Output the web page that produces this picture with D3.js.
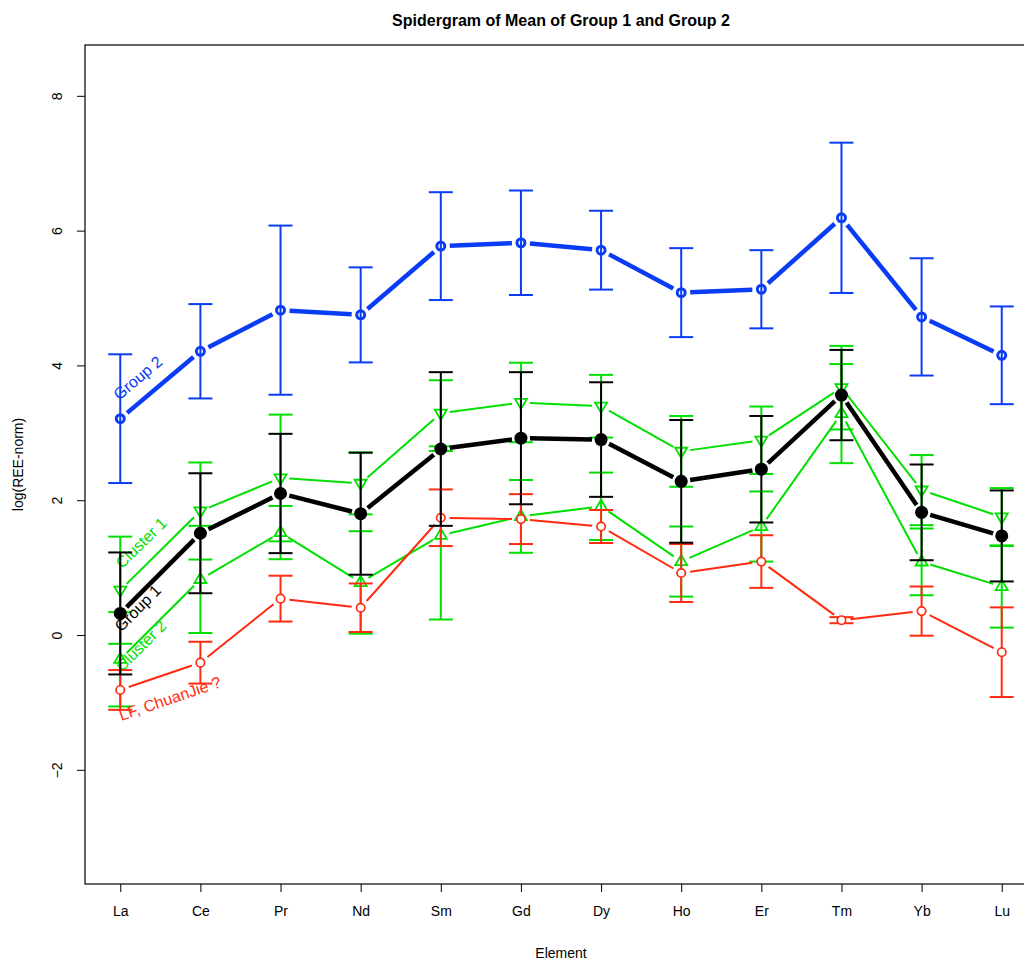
<!DOCTYPE html>
<html lang="en">
  <head>
    <meta charset="UTF-8" />
    <title>Spidergram</title>
    <script src="https://d3js.org/d3.v7.min.js"></script>
    <style>
      body { margin: 0; background: #fff; }
      text { font-family: "Liberation Sans", Arial, sans-serif; }
    </style>
  </head>

  <body>
    <svg width="1024" height="960"></svg>
    <script>
      const elements = ["La", "Ce", "Pr", "Nd", "Sm", "Gd", "Dy", "Ho", "Er", "Tm", "Yb", "Lu"];
      const yTicks = [-2, 0, 2, 4, 6, 8];

      // mean and standard deviation per element
      const group2Mean = [3.21, 4.21, 4.82, 4.75, 5.77, 5.82, 5.71, 5.08, 5.13, 6.19, 4.72, 4.15];
      const group2Sd = [0.955, 0.7, 1.255, 0.705, 0.8, 0.775, 0.585, 0.66, 0.58, 1.115, 0.87, 0.725];
      const group1Mean = [0.32, 1.51, 2.1, 1.8, 2.76, 2.92, 2.9, 2.28, 2.46, 3.56, 1.82, 1.47];
      const group1Sd = [0.905, 0.89, 0.885, 0.905, 1.14, 0.98, 0.85, 0.91, 0.79, 0.67, 0.71, 0.675];
      const cluster1Mean = [0.665, 1.84, 2.33, 2.25, 3.29, 3.45, 3.395, 2.725, 2.89, 3.67, 2.15, 1.75];
      const cluster1Sd = [0.795, 0.72, 0.94, 0.46, 0.49, 0.59, 0.465, 0.525, 0.5, 0.62, 0.52, 0.43];
      const cluster2Mean = [-0.36, 0.825, 1.52, 0.78, 1.48, 1.76, 1.91, 1.09, 1.61, 3.285, 1.085, 0.72];
      const cluster2Sd = [0.7, 0.795, 0.395, 0.76, 1.25, 0.54, 0.5, 0.52, 0.52, 0.735, 0.495, 0.61];
      const lfMean = [-0.815, -0.41, 0.54, 0.405, 1.74, 1.72, 1.61, 0.92, 1.09, 0.22, 0.355, -0.255];
      const lfSd = [0.295, 0.31, 0.34, 0.36, 0.42, 0.37, 0.245, 0.43, 0.39, 0.045, 0.365, 0.665];

      const BLUE = "#0a3cf5", GREEN = "#00e000", RED = "#ff2a10", BLACK = "#000";

      // drawing order: clusters first, then LF, Group 1, Group 2 on top
      const series = [
        { name: "Cluster 1", mean: cluster1Mean, sd: cluster1Sd, color: GREEN, lw: 2, pch: "down", lab: [2, -21] },
        { name: "Cluster 2", mean: cluster2Mean, sd: cluster2Sd, color: GREEN, lw: 2, pch: "up", lab: [2, 13] },
        { name: "LF, ChuanJie ?", mean: lfMean, sd: lfSd, color: RED, lw: 2, pch: "open", lab: [1, 31] },
        { name: "Group 1", mean: group1Mean, sd: group1Sd, color: BLACK, lw: 4.5, pch: "solid", lab: [1, 19] },
        { name: "Group 2", mean: group2Mean, sd: group2Sd, color: BLUE, lw: 4.5, pch: "thick", lab: [-1, -18] },
      ];

      const svg = d3.select("svg");
      const pLeft = 85, pRight = 1037, pTop = 45, pBottom = 884;

      const x = d3.scaleLinear().domain([-0.44, 11.44]).range([pLeft, pRight]);
      const y = d3.scaleLinear().domain([-3.694, 8.754]).range([pBottom, pTop]);

      // title and axis titles
      svg.append("text")
        .attr("x", (pLeft + pRight) / 2).attr("y", 26)
        .attr("text-anchor", "middle").attr("font-size", 16).attr("font-weight", "bold")
        .text("Spidergram of Mean of Group 1 and Group 2");
      svg.append("text")
        .attr("x", (pLeft + pRight) / 2).attr("y", 958)
        .attr("text-anchor", "middle").attr("font-size", 14)
        .text("Element");
      svg.append("text")
        .attr("transform", "translate(23," + (pTop + pBottom) / 2 + ") rotate(-90)")
        .attr("text-anchor", "middle").attr("font-size", 14)
        .text("log(REE-norm)");

      // axes (R style: outside ticks, no domain path)
      const xAxis = svg.append("g")
        .attr("transform", "translate(0," + pBottom + ")")
        .call(d3.axisBottom(x).tickValues(d3.range(elements.length))
          .tickFormat((i) => elements[i]).tickSize(8).tickPadding(14));
      xAxis.select(".domain").remove();
      xAxis.selectAll("text").attr("font-size", 14).attr("font-family", "Liberation Sans, Arial, sans-serif");

      const yAxis = svg.append("g")
        .attr("transform", "translate(" + pLeft + ",0)")
        .call(d3.axisLeft(y).tickValues(yTicks).tickSize(8).tickPadding(0));
      yAxis.select(".domain").remove();
      yAxis.selectAll("text")
        .attr("font-size", 14).attr("font-family", "Liberation Sans, Arial, sans-serif")
        .attr("text-anchor", "middle").attr("dy", 0).attr("x", 0)
        .attr("transform", "translate(-28,0) rotate(-90) translate(0,5)");

      svg.append("rect")
        .attr("x", pLeft).attr("y", pTop)
        .attr("width", pRight - pLeft).attr("height", pBottom - pTop)
        .attr("fill", "none").attr("stroke", "#000").attr("stroke-width", 1.2);

      const plot = svg.append("g");
      const gap = 9;
      const cap = 12;

      series.forEach((s) => {
        const g = plot.append("g");
        const pts = s.mean.map((m, i) => [x(i), y(m)]);

        // error bars
        s.mean.forEach((m, i) => {
          const hi = y(m + s.sd[i]), lo = y(m - s.sd[i]), cx = x(i);
          g.append("line").attr("x1", cx).attr("x2", cx).attr("y1", hi).attr("y2", lo)
            .attr("stroke", s.color).attr("stroke-width", 2);
          [hi, lo].forEach((yy) => {
            g.append("line").attr("x1", cx - cap).attr("x2", cx + cap).attr("y1", yy).attr("y2", yy)
              .attr("stroke", s.color).attr("stroke-width", 2);
          });
        });

        // type = "b" lines: segments broken around the points
        for (let i = 0; i < pts.length - 1; i++) {
          const [x0, y0] = pts[i], [x1, y1] = pts[i + 1];
          const len = Math.hypot(x1 - x0, y1 - y0);
          if (len <= 2 * gap) continue;
          const ux = (x1 - x0) / len, uy = (y1 - y0) / len;
          g.append("line")
            .attr("x1", x0 + ux * gap).attr("y1", y0 + uy * gap)
            .attr("x2", x1 - ux * gap).attr("y2", y1 - uy * gap)
            .attr("stroke", s.color).attr("stroke-width", s.lw);
        }

        // point symbols
        pts.forEach(([px, py]) => {
          if (s.pch === "solid") {
            g.append("circle").attr("cx", px).attr("cy", py).attr("r", 6.5).attr("fill", s.color);
          } else if (s.pch === "thick") {
            g.append("circle").attr("cx", px).attr("cy", py).attr("r", 4)
              .attr("fill", "none").attr("stroke", s.color).attr("stroke-width", 3);
          } else if (s.pch === "open") {
            g.append("circle").attr("cx", px).attr("cy", py).attr("r", 4.2)
              .attr("fill", "#fff").attr("stroke", s.color).attr("stroke-width", 1.7);
          } else {
            const h = 6;
            const d = s.pch === "up"
              ? `M${px - h},${py + h * 0.6}L${px + h},${py + h * 0.6}L${px},${py - h * 1.1}Z`
              : `M${px - h},${py - h * 0.6}L${px + h},${py - h * 0.6}L${px},${py + h * 1.1}Z`;
            g.append("path").attr("d", d).attr("fill", "none")
              .attr("stroke", s.color).attr("stroke-width", 1.8);
          }
        });

        // series label along the first segment
        const ang = Math.atan2(pts[1][1] - pts[0][1], pts[1][0] - pts[0][0]) * 180 / Math.PI;
        g.append("text")
          .attr("transform", `translate(${pts[0][0] + s.lab[0]},${pts[0][1] + s.lab[1]}) rotate(${ang})`)
          .attr("font-size", 16).attr("fill", s.color)
          .text(s.name);
      });
    </script>
  </body>
</html>
